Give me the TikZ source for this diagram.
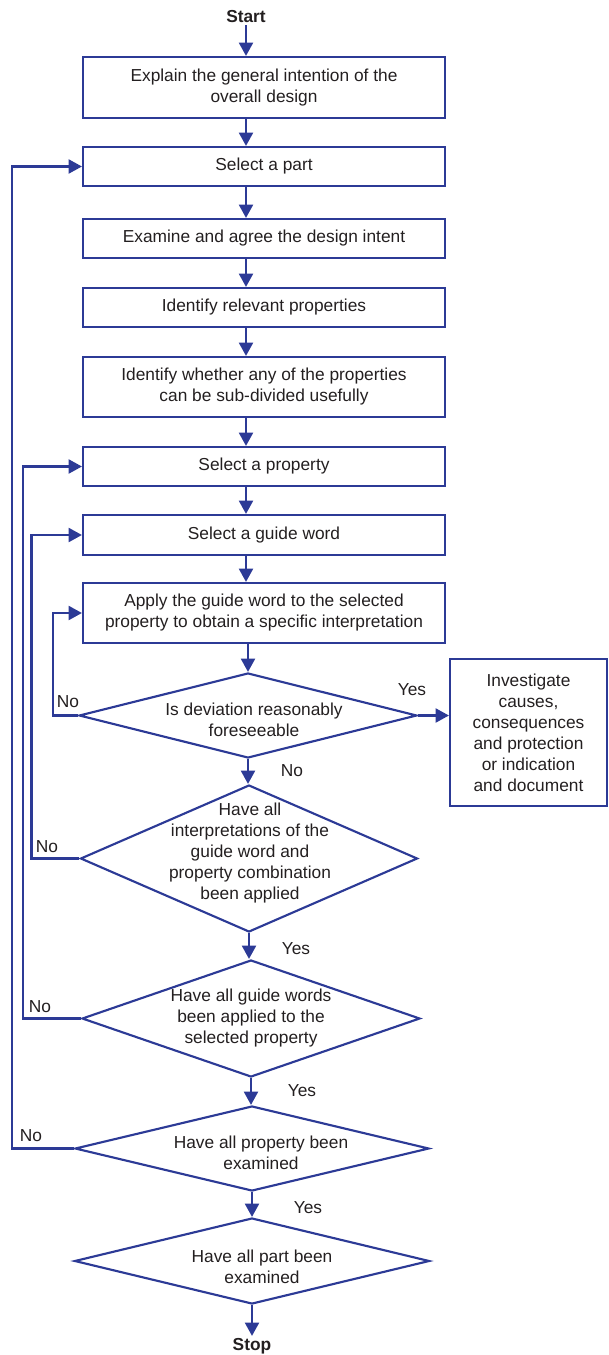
\documentclass[tikz,border=0pt]{standalone}
\usepackage{fontspec}
\setmainfont{Liberation Sans}
\usetikzlibrary{shapes.geometric,arrows.meta,positioning}
\definecolor{hazblue}{RGB}{44,58,150}
\definecolor{hazink}{RGB}{35,31,32}
\tikzset{
	stepbox/.style={rectangle, draw=hazblue, line width=1.6pt, text=hazink,
		minimum width=271.5pt, align=center, font=\fontsize{13}{15.75}\selectfont, inner sep=2pt},
	decision/.style={diamond, draw=hazblue, line width=1.6pt, inner sep=0pt},
	dectext/.style={align=center, text=hazink, font=\fontsize{13}{15.75}\selectfont, inner sep=0pt},
	answer/.style={text=hazink, font=\fontsize{13}{15.75}\selectfont, inner sep=0pt},
	terminal/.style={text=hazink, font=\fontsize{13}{15.75}\selectfont\bfseries, inner sep=1.5pt},
	flowarr/.style={-{Triangle[length=10pt,width=10.5pt]}, draw=hazblue, line width=1.7pt},
	flowline/.style={draw=hazblue, line width=1.7pt}
}
\begin{document}
\begin{tikzpicture}[x=0.75pt, y=-0.75pt]
	\useasboundingbox (0,0) rectangle (608,1355);
	\coordinate (spine) at (246,0);
	\node[terminal] (start) at (246,17) {Start};
	% boxes
	\node[stepbox, minimum height=45.75pt] (box1) at (264,87.5) {Explain the general intention of the\\overall design};
	\node[stepbox, minimum height=29.25pt] (box2) at (264,166.5) {Select a part};
	\node[stepbox, minimum height=29.25pt] (box3) at (264,238.5) {Examine and agree the design intent};
	\node[stepbox, minimum height=29.25pt] (box4) at (264,307.5) {Identify relevant properties};
	\node[stepbox, minimum height=45pt] (box5) at (264,387) {Identify whether any of the properties\\can be sub-divided usefully};
	\node[stepbox, minimum height=29.25pt] (box6) at (264,466.5) {Select a property};
	\node[stepbox, minimum height=30pt] (box7) at (264,535) {Select a guide word};
	\node[stepbox, minimum height=45pt] (box8) at (264,613) {Apply the guide word to the selected\\property to obtain a specific interpretation};
	\node[stepbox, minimum width=117.75pt, minimum height=110.25pt] (inv) at (528.5,732.5) {Investigate\\causes,\\consequences\\and protection\\or indication\\and document};
	% decisions
	\node[decision, minimum width=253.5pt, minimum height=63.75pt] (dec1) at (248,715.5) {};
	\node[decision, minimum width=252.75pt, minimum height=110.25pt] (dec2) at (249,858.5) {};
	\node[decision, minimum width=253.5pt, minimum height=87.75pt] (dec3) at (251,1018.5) {};
	\node[decision, minimum width=265.5pt, minimum height=63.75pt] (dec4) at (252,1148.5) {};
	\node[decision, minimum width=266.25pt, minimum height=64.5pt] (dec5) at (252,1261) {};
	\node[dectext] at (254,720) {Is deviation reasonably\\foreseeable};
	\node[dectext] at (250,853) {Have all\\interpretations of the\\guide word and\\property combination\\been applied};
	\node[dectext] at (251,1018) {Have all guide words\\been applied to the\\selected property};
	\node[dectext] at (261,1153) {Have all property been\\examined};
	\node[dectext] at (262,1267) {Have all part been\\examined};
	\node[terminal] (stop) at (252,1346) {Stop};
	% answers
	\node[answer] at (412,690) {Yes};
	\node[answer] at (68,702) {No};
	\node[answer] at (292,771) {No};
	\node[answer] at (47,847) {No};
	\node[answer] at (296,949) {Yes};
	\node[answer] at (40,1007) {No};
	\node[answer] at (302,1091) {Yes};
	\node[answer] at (31,1136) {No};
	\node[answer] at (308,1208) {Yes};
	% main flow
	\draw[flowarr] (start.south) -- (box1.north -| start.south);
	\foreach \a/\b in {box1/box2, box2/box3, box3/box4, box4/box5, box5/box6, box6/box7, box7/box8}
		\draw[flowarr] (\a.south -| spine) -- (\b.north -| spine);
	\draw[flowarr] (box8.south -| dec1.north) -- (dec1.north);
	\draw[flowarr] (dec1.south) -- (dec1.south |- dec2.north);
	\draw[flowarr] (dec2.south) -- (dec2.south |- dec3.north);
	\draw[flowarr] (dec3.south) -- (dec3.south |- dec4.north);
	\draw[flowarr] (dec4.south) -- (dec4.south |- dec5.north);
	\draw[flowarr] (dec5.south) -- (dec5.south |- stop.north);
	\draw[flowarr] (dec1.east) -- (dec1.east -| inv.west);
	% loops back
	\draw[flowarr] (dec1.west) -- ++(-25,0) |- (box8.west);
	\draw[flowarr] (dec2.west) -- ++(-48,0) |- (box7.west);
	\draw[flowarr] (dec3.west) -- ++(-58,0) |- (box6.west);
	\draw[flowarr] (dec4.west) -- ++(-62,0) |- (box2.west);
\end{tikzpicture}
\end{document}
